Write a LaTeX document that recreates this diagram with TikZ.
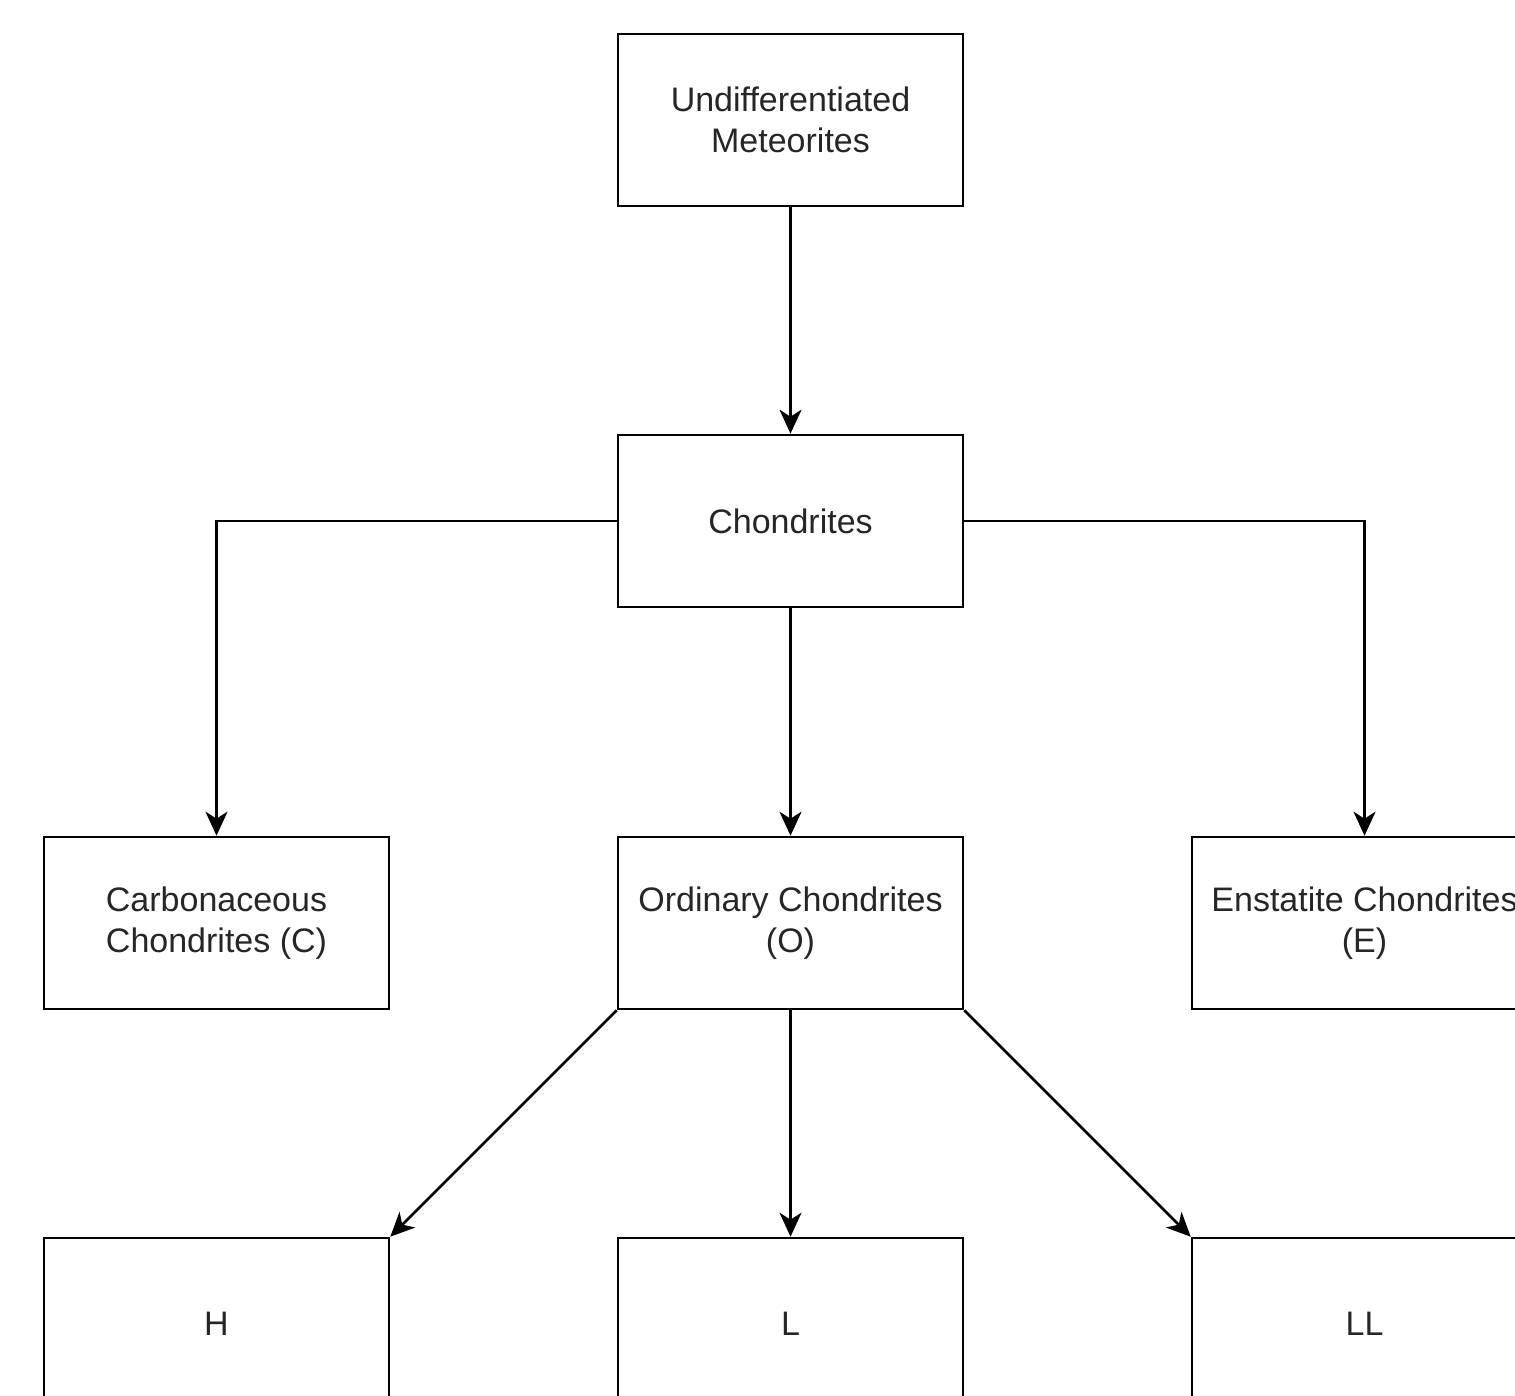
\documentclass[tikz,border=0pt]{standalone}
\usepackage{fontspec}
\setmainfont{Liberation Sans}
\usetikzlibrary{arrows.meta}
\begin{document}
\begin{tikzpicture}[x=1pt,y=-1pt,
  box/.style={draw=black, line width=2.6pt, rectangle, minimum width=345pt, minimum height=172pt,
    align=center, inner sep=0pt, text=black!85, font=\fontsize{34}{41}\selectfont},
  conn/.style={draw=black, line width=2.6pt, -{Stealth[length=24pt, width=22pt, inset=7pt]}}]
\fill[white] (0,0) rectangle (1515,1396);
\useasboundingbox (0,0) rectangle (1515,1396);
\node[box] (und) at (790.5,120) {Undifferentiated\\Meteorites};
\node[box] (cho) at (790.5,521) {Chondrites};
\node[box] (car) at (216.5,923) {Carbonaceous\\Chondrites (C)};
\node[box] (ord) at (790.5,923) {Ordinary Chondrites\\(O)};
\node[box] (ens) at (1364.5,923) {Enstatite Chondrites\\(E)};
\node[box] (h) at (216.5,1324) {H};
\node[box] (l) at (790.5,1324) {L};
\node[box] (ll) at (1364.5,1324) {LL};
\draw[conn] (und.south) -- (cho.north);
\draw[conn] (cho.west) -| (car.north);
\draw[conn] (cho.east) -| (ens.north);
\draw[conn] (cho.south) -- (ord.north);
\draw[conn] (ord.south west) -- (h.north east);
\draw[conn] (ord.south) -- (l.north);
\draw[conn] (ord.south east) -- (ll.north west);
\end{tikzpicture}
\end{document}
